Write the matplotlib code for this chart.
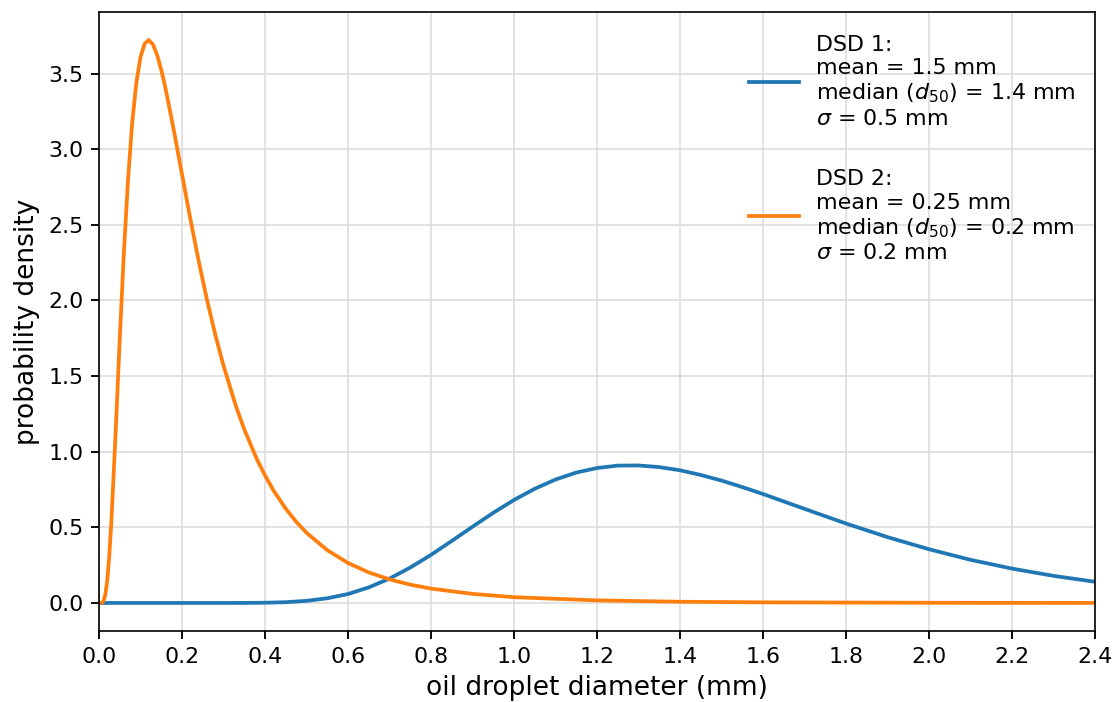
import matplotlib.pyplot as plt

# Droplet size distributions (probability density per mm)
diam_dsd1 = [0.0, 0.3, 0.35, 0.4, 0.45, 0.5, 0.55, 0.6, 0.65, 0.7, 0.75, 0.8, 0.85,
             0.9, 0.95, 1.0, 1.05, 1.1, 1.15, 1.2, 1.25, 1.3, 1.35, 1.4, 1.45,
             1.5, 1.55, 1.6, 1.7, 1.8, 1.9, 2.0, 2.1, 2.2, 2.3, 2.4]
pdf_dsd1 = [0.0, 0.0, 0.0003, 0.0015, 0.005, 0.014, 0.031, 0.059, 0.103, 0.161,
            0.234, 0.318, 0.410, 0.504, 0.596, 0.681, 0.755, 0.816, 0.862, 0.892,
            0.908, 0.909, 0.898, 0.877, 0.846, 0.809, 0.766, 0.720, 0.622, 0.525,
            0.435, 0.355, 0.285, 0.227, 0.179, 0.140]

diam_dsd2 = [0.0, 0.005, 0.01, 0.015, 0.02, 0.025, 0.03, 0.04, 0.05, 0.06, 0.07,
             0.08, 0.09, 0.10, 0.11, 0.12, 0.13, 0.14, 0.15, 0.16, 0.18, 0.20,
             0.22, 0.24, 0.26, 0.28, 0.30, 0.33, 0.35, 0.38, 0.40, 0.42, 0.45,
             0.475, 0.50, 0.55, 0.60, 0.65, 0.70, 0.75, 0.80, 0.90, 1.0, 1.2,
             1.4, 1.6, 2.0, 2.4]
pdf_dsd2 = [0.0, 0.0002, 0.0075, 0.049, 0.149, 0.317, 0.545, 1.118, 1.739, 2.315,
            2.797, 3.172, 3.438, 3.608, 3.697, 3.721, 3.692, 3.623, 3.525, 3.406,
            3.130, 2.835, 2.541, 2.264, 2.008, 1.776, 1.569, 1.301, 1.148, 0.953,
            0.843, 0.746, 0.623, 0.537, 0.464, 0.349, 0.264, 0.202, 0.156, 0.121,
            0.095, 0.060, 0.038, 0.017, 0.008, 0.004, 0.0012, 0.0004]

label_dsd1 = "DSD 1:\nmean = 1.5 mm\nmedian ($d_{50}$) = 1.4 mm\n$\\sigma$ = 0.5 mm"
label_dsd2 = "DSD 2:\nmean = 0.25 mm\nmedian ($d_{50}$) = 0.2 mm\n$\\sigma$ = 0.2 mm"

dpi = 150
fig = plt.figure(figsize=(1117 / dpi, 702 / dpi), dpi=dpi)
ax = fig.add_axes([0.0886, 0.101, 0.8918, 0.882])

ax.plot(diam_dsd1, pdf_dsd1, color='#1f77b4', lw=1.8, label=label_dsd1)
ax.plot(diam_dsd2, pdf_dsd2, color='#ff7f0e', lw=1.8, label=label_dsd2)

ax.set_xlim(0, 2.4)
ax.set_xticks([i * 0.2 for i in range(13)])
ax.set_xlabel('oil droplet diameter (mm)', fontsize=12.7)
ax.set_ylabel('probability density', fontsize=12.7)
ax.tick_params(labelsize=10.6, length=4, width=0.9)
ax.grid(True, color='#dddddd', lw=0.8)

ax.legend(loc='upper right', frameon=False, fontsize=10.6,
          handlelength=2.27, handletextpad=0.73, labelspacing=1.85,
          bbox_to_anchor=(1.0, 0.995))

fig.savefig('out.png', dpi=dpi)
